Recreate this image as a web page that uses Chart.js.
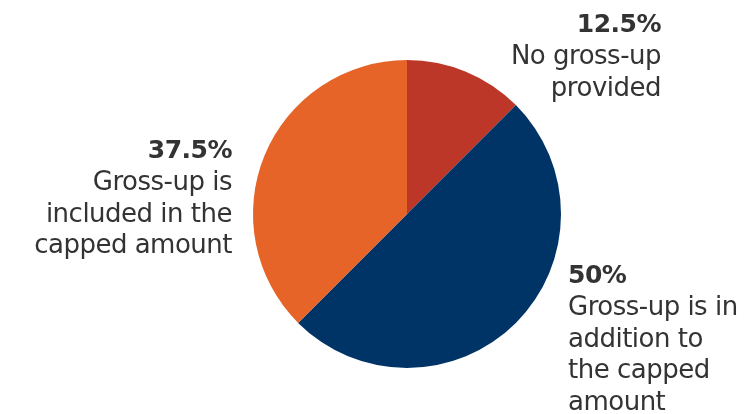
<!DOCTYPE html>
<html>
<head>
<meta charset="utf-8">
<script src="https://cdn.jsdelivr.net/npm/chart.js@4"></script>
<style>
  html, body { margin: 0; padding: 0; background: #fff; }
  #contenedor { width: 749px; height: 414px; }
</style>
</head>
<body>
<div id="contenedor"><canvas id="graficoGrossUp" width="749" height="414"></canvas></div>
<script>
// ====== Datos ======
const categorias = ['No gross-up provided', 'Gross-up is in addition to the capped amount', 'Gross-up is included in the capped amount'];
const valores = [12.5, 50, 37.5];
const lineasEtiqueta = [
  ['No gross-up', 'provided'],
  ['Gross-up is in', 'addition to', 'the capped', 'amount'],
  ['Gross-up is', 'included in the', 'capped amount']
];
const colores = ['#BD3728', '#013466', '#E66427'];

// ====== Posición de cada bloque de texto (relativa al centro del pie) ======
const bloques = [
  { dx: 254, dy: -182, align: 'right' },
  { dx: 161, dy: 69, align: 'left' },
  { dx: -175, dy: -56, align: 'right' }
];
const altoLinea = 31.8;

// ====== Plugin para las etiquetas ======
const etiquetasPie = {
  id: 'etiquetasPie',
  afterDatasetsDraw(chart) {
    const ctx = chart.ctx;
    const arcos = chart.getDatasetMeta(0).data;
    ctx.save();
    ctx.fillStyle = '#333333';
    ctx.textBaseline = 'alphabetic';
    ctx.letterSpacing = '-0.5px';
    arcos.forEach((arco, i) => {
      const b = bloques[i];
      const x = arco.x + b.dx;
      let y = arco.y + b.dy;
      ctx.textAlign = b.align;
      ctx.font = 'bold 25px "DejaVu Sans"';
      ctx.fillText(valores[i] + '%', x, y);
      ctx.font = '26px "DejaVu Sans"';
      lineasEtiqueta[i].forEach(linea => {
        y += altoLinea;
        ctx.fillText(linea, x, y);
      });
    });
    ctx.restore();
  }
};

// ====== Gráfico ======
const ctx = document.getElementById('graficoGrossUp').getContext('2d');
const grafico = new Chart(ctx, {
  type: 'pie',
  data: {
    labels: categorias,
    datasets: [{
      data: valores,
      backgroundColor: colores,
      borderWidth: 0
    }]
  },
  options: {
    responsive: false,
    animation: false,
    layout: {
      padding: { left: 253, right: 188, top: 60, bottom: 46 }
    },
    plugins: {
      legend: { display: false },
      tooltip: { enabled: false }
    }
  },
  plugins: [etiquetasPie]
});
</script>
</body>
</html>
